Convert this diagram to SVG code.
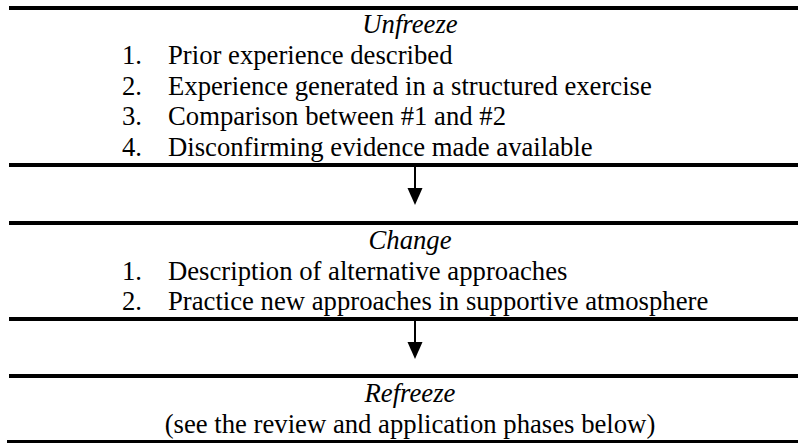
<svg xmlns="http://www.w3.org/2000/svg" width="798" height="443" viewBox="0 0 798 443">
<style>
text{font-family:"Liberation Serif","Times New Roman",serif;font-size:26.7px;fill:#000}
.h{font-style:italic;text-anchor:middle}
.c{text-anchor:middle}
.rule{stroke:#000;stroke-width:4}
.conn{stroke:#000;stroke-width:2}
</style>
<defs>
<marker id="ah" markerWidth="15" markerHeight="17" refX="7.5" refY="17" orient="auto" markerUnits="userSpaceOnUse" viewBox="0 0 15 17">
<path d="M0,0 L15,0 L7.5,17 Z" fill="#000" transform="rotate(-90 7.5 8.5)"/>
</marker>
</defs>
<rect width="798" height="443" fill="#fff"/>
<g id="unfreeze">
<line class="rule" x1="9" y1="8" x2="798" y2="8"/>
<text class="h" x="410" y="33">Unfreeze</text>
<text x="122" y="64">1.</text><text x="168" y="64">Prior experience described</text>
<text x="122" y="95">2.</text><text x="168" y="95">Experience generated in a structured exercise</text>
<text x="122" y="125">3.</text><text x="168" y="125">Comparison between #1 and #2</text>
<text x="122" y="156">4.</text><text x="168" y="156">Disconfirming evidence made available</text>
<line class="rule" x1="9" y1="165" x2="798" y2="165"/>
</g>
<g id="change">
<line class="rule" x1="9" y1="223" x2="798" y2="223"/>
<text class="h" x="410" y="249">Change</text>
<text x="122" y="280">1.</text><text x="168" y="280">Description of alternative approaches</text>
<text x="122" y="310">2.</text><text x="168" y="310">Practice new approaches in supportive atmosphere</text>
<line class="rule" x1="9" y1="319" x2="798" y2="319"/>
</g>
<g id="refreeze">
<line class="rule" x1="9" y1="376" x2="798" y2="376"/>
<text class="h" x="410" y="402">Refreeze</text>
<text class="c" x="410" y="433">(see the review and application phases below)</text>
<line class="rule" x1="7" y1="442" x2="798" y2="442"/>
</g>
<g id="connectors">
<line class="conn" x1="415" y1="167" x2="415" y2="190"/>
<polygon points="407.5,188 422.5,188 415,205" fill="#000"/>
<line class="conn" x1="415" y1="321" x2="415" y2="344"/>
<polygon points="407.5,342 422.5,342 415,359" fill="#000"/>
</g>
</svg>
